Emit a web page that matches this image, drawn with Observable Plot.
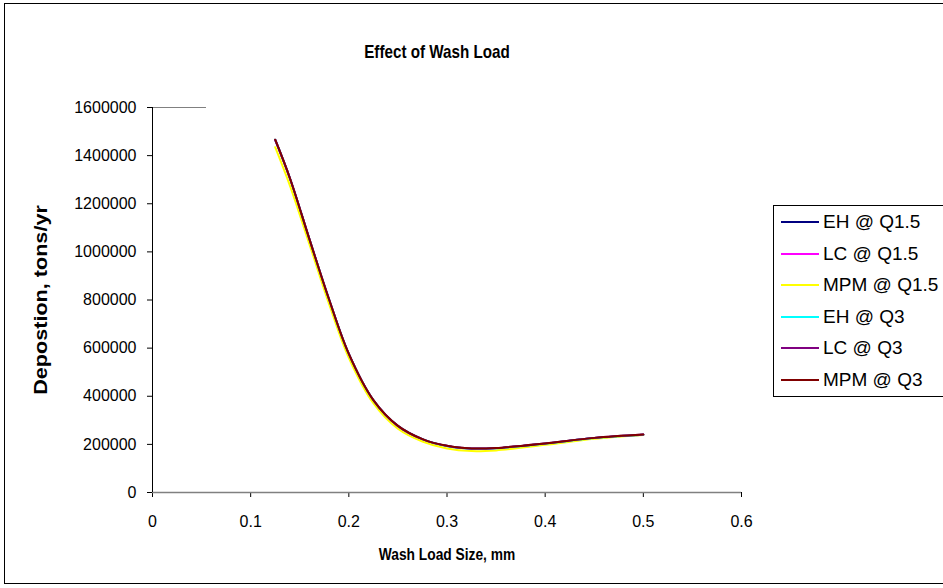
<!DOCTYPE html>
<html>
<head>
<meta charset="utf-8">
<script src="https://cdn.jsdelivr.net/npm/d3@7"></script>
<script src="https://cdn.jsdelivr.net/npm/@observablehq/plot@0.6"></script>
<style>
  html, body { margin: 0; padding: 0; background: #fff; overflow: hidden; }
  #wrap { position: relative; width: 943px; height: 588px; font-family: "Liberation Sans", Arial, sans-serif; }
  #border { position: absolute; left: 4px; top: 3px; width: 990px; height: 581px; border: 1px solid #000; box-sizing: border-box; }
  #title { position: absolute; left: 437px; top: 52px; transform: translate(-50%, -50%) scaleX(0.8); white-space: nowrap; font-weight: bold; font-size: 19px; }
  #xtitle { position: absolute; left: 447px; top: 555px; transform: translate(-50%, -50%) scaleX(0.86); white-space: nowrap; font-weight: bold; font-size: 16px; }
  #ytitle { position: absolute; left: 41px; top: 300px; transform: translate(-50%, -50%) rotate(-90deg) scaleX(1.2); white-space: nowrap; font-weight: bold; font-size: 18px; }
  #legend { position: absolute; left: 773px; top: 205px; width: 220px; height: 192px; border: 1px solid #000; box-sizing: border-box; background: #fff; }
  .row { position: absolute; left: 7px; height: 24px; display: flex; align-items: center; font-size: 19px; white-space: nowrap; }
  .row svg { margin-right: 4px; }
</style>
</head>
<body>
<div id="wrap">
  <div id="border"></div>
  <div id="chart"></div>
  <div id="title">Effect of Wash Load</div>
  <div id="xtitle">Wash Load Size, mm</div>
  <div id="ytitle">Depostion, tons/yr</div>
  <div id="legend"></div>
</div>
<script>
const washLoadSize = [0.125, 0.14, 0.16, 0.18, 0.2, 0.225, 0.25, 0.275, 0.3, 0.325, 0.35, 0.4, 0.45, 0.5];
const seriesNames = ["EH @ Q1.5", "LC @ Q1.5", "MPM @ Q1.5", "EH @ Q3", "LC @ Q3", "MPM @ Q3"];
const seriesColors = ["#000080", "#ff00ff", "#ffff00", "#00ffff", "#800080", "#800000"];
const ehQ15  = [1465000, 1305000, 1050000, 800000, 575000, 383000, 276000, 221000, 193000, 182000, 184000, 203000, 226000, 240000];
const lcQ15  = [1465000, 1305000, 1050000, 800000, 575000, 383000, 276000, 221000, 193000, 182000, 184000, 203000, 226000, 240000];
const mpmQ15 = [1435000, 1275000, 1030000, 782000, 560000, 371000, 265000, 212000, 183000, 172000, 175000, 198000, 223000, 239000];
const ehQ3   = [1466000, 1306000, 1051000, 801000, 576000, 384000, 277000, 222000, 193000, 182000, 184000, 203000, 226000, 240000];
const lcQ3   = [1466000, 1306000, 1051000, 801000, 576000, 384000, 277000, 222000, 194000, 183000, 185000, 204000, 227000, 241000];
const mpmQ3  = [1466000, 1306000, 1051000, 801000, 576000, 384000, 277000, 222000, 194000, 183000, 185000, 204000, 227000, 241000];
const yTicks = [0, 200000, 400000, 600000, 800000, 1000000, 1200000, 1400000, 1600000];
const xTicks = [0, 0.1, 0.2, 0.3, 0.4, 0.5, 0.6];
const topGridStub = [{y: 1600000, x1: 0, x2: 0.055}];

const allSeries = [ehQ15, lcQ15, mpmQ15, ehQ3, lcQ3, mpmQ3];
const rows = [];
allSeries.forEach((vals, i) => {
  vals.forEach((v, j) => rows.push({series: seriesNames[i], x: washLoadSize[j], y: v}));
});

const plot = Plot.plot({
  width: 943,
  height: 588,
  marginLeft: 152,
  marginRight: 202,
  marginTop: 107,
  marginBottom: 96,
  style: {fontFamily: "'Liberation Sans', Arial, sans-serif", fontSize: "16px", color: "#000", background: "transparent"},
  x: {domain: [0, 0.6], ticks: xTicks, label: null},
  y: {domain: [0, 1600000], ticks: yTicks, label: null},
  color: {domain: seriesNames, range: seriesColors},
  marks: [
    Plot.ruleY(topGridStub, {y: "y", x1: "x1", x2: "x2", stroke: "#808080", strokeWidth: 1}),
    Plot.axisX({ticks: xTicks, tickSize: 5, tickPadding: 18, fontSize: 16, tickFormat: d => String(d), label: null, stroke: "#000"}),
    Plot.axisY({ticks: yTicks, tickSize: 5, tickPadding: 11, fontSize: 16, tickFormat: d => String(d), label: null, stroke: "#000"}),
    Plot.ruleY([0], {stroke: "#808080", strokeWidth: 1.5}),
    Plot.ruleX([0], {stroke: "#000", strokeWidth: 1}),
    Plot.line(rows, {x: "x", y: "y", z: "series", stroke: "series", strokeWidth: 2, curve: "catmull-rom"})
  ]
});
document.getElementById("chart").appendChild(plot);

const legend = document.getElementById("legend");
seriesNames.forEach((name, i) => {
  const row = document.createElement("div");
  row.className = "row";
  row.style.top = (4 + i * 31.6) + "px";
  row.innerHTML = `<svg width="38" height="4"><line x1="0" x2="38" y1="2" y2="2" stroke="${seriesColors[i]}" stroke-width="2"/></svg><span>${name}</span>`;
  legend.appendChild(row);
});
</script>
</body>
</html>
